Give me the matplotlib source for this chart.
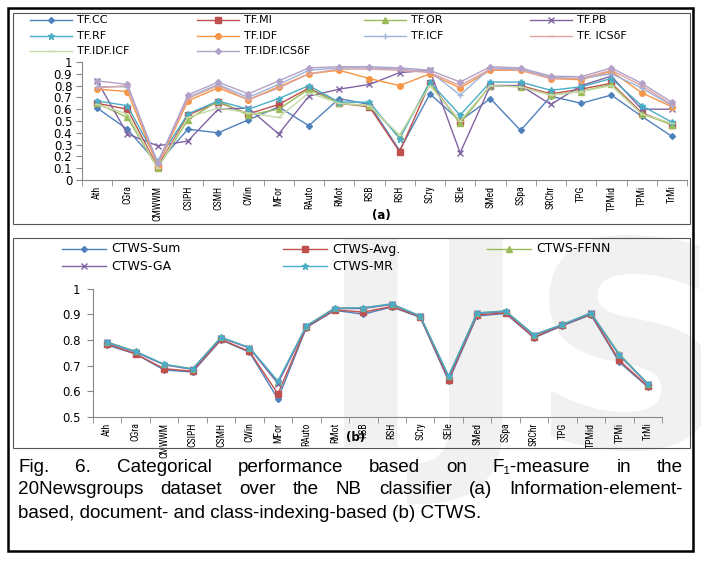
import numpy as np
import matplotlib
matplotlib.use("Agg")
import matplotlib.pyplot as plt
from matplotlib.patches import Rectangle
from matplotlib.lines import Line2D

cats = ["Ath", "CGra", "CMWWM", "CSIPH", "CSMH", "CWin", "MFor", "RAuto", "RMot", "RSB",
        "RSH", "SCry", "SEle", "SMed", "SSpa", "SRChr", "TPG", "TPMid", "TPMi", "TrMi"]

# (a) information-element / document / class indexing
tf_cc = [0.61, 0.43, 0.14, 0.43, 0.40, 0.51, 0.62, 0.46, 0.69, 0.64,
         0.25, 0.73, 0.50, 0.69, 0.42, 0.71, 0.65, 0.72, 0.54, 0.37]
tf_mi = [0.65, 0.60, 0.11, 0.55, 0.66, 0.56, 0.64, 0.78, 0.65, 0.62,
         0.24, 0.82, 0.49, 0.80, 0.80, 0.73, 0.77, 0.82, 0.57, 0.47]
tf_or = [0.65, 0.53, 0.10, 0.51, 0.67, 0.55, 0.60, 0.77, 0.65, 0.63,
         0.37, 0.82, 0.48, 0.80, 0.79, 0.72, 0.75, 0.81, 0.56, 0.47]
tf_pb = [0.84, 0.39, 0.29, 0.33, 0.60, 0.61, 0.39, 0.71, 0.77, 0.81,
         0.91, 0.93, 0.23, 0.80, 0.80, 0.64, 0.80, 0.88, 0.60, 0.60]
tf_rf = [0.67, 0.63, 0.16, 0.56, 0.67, 0.60, 0.69, 0.80, 0.66, 0.66,
         0.35, 0.83, 0.55, 0.83, 0.83, 0.76, 0.79, 0.86, 0.63, 0.49]
tf_idf = [0.77, 0.75, 0.12, 0.67, 0.78, 0.68, 0.79, 0.90, 0.93, 0.86,
          0.80, 0.90, 0.78, 0.93, 0.93, 0.86, 0.85, 0.92, 0.74, 0.62]
tf_icf = [0.79, 0.79, 0.15, 0.70, 0.81, 0.70, 0.81, 0.93, 0.95, 0.95,
          0.94, 0.92, 0.72, 0.95, 0.94, 0.87, 0.86, 0.90, 0.78, 0.63]
tf_icsdf = [0.78, 0.80, 0.13, 0.69, 0.80, 0.68, 0.78, 0.90, 0.94, 0.94,
            0.93, 0.91, 0.80, 0.94, 0.93, 0.86, 0.86, 0.93, 0.80, 0.64]
tf_idf_icf = [0.64, 0.56, 0.10, 0.53, 0.61, 0.57, 0.53, 0.74, 0.65, 0.63,
              0.38, 0.80, 0.50, 0.80, 0.79, 0.72, 0.75, 0.80, 0.56, 0.48]
tf_idf_icsdf = [0.84, 0.81, 0.14, 0.72, 0.83, 0.73, 0.84, 0.95, 0.96, 0.96,
                0.95, 0.93, 0.83, 0.96, 0.95, 0.88, 0.875, 0.95, 0.82, 0.66]

# (b) CTWS variants
ctws_sum = [0.78, 0.745, 0.683, 0.675, 0.80, 0.752, 0.57, 0.848, 0.915, 0.90,
            0.928, 0.888, 0.64, 0.893, 0.903, 0.808, 0.855, 0.898, 0.713, 0.617]
ctws_avg = [0.785, 0.745, 0.688, 0.678, 0.802, 0.755, 0.59, 0.85, 0.917, 0.908,
            0.93, 0.89, 0.645, 0.897, 0.905, 0.81, 0.857, 0.90, 0.72, 0.62]
ctws_ffnn = [0.792, 0.755, 0.705, 0.688, 0.81, 0.77, 0.635, 0.855, 0.925, 0.925,
             0.94, 0.893, 0.66, 0.905, 0.913, 0.82, 0.86, 0.905, 0.745, 0.63]
ctws_ga = [0.79, 0.752, 0.703, 0.685, 0.808, 0.768, 0.63, 0.853, 0.922, 0.922,
           0.938, 0.892, 0.655, 0.903, 0.91, 0.818, 0.858, 0.903, 0.74, 0.628]
ctws_mr = [0.79, 0.755, 0.705, 0.687, 0.81, 0.77, 0.64, 0.855, 0.923, 0.925,
           0.94, 0.893, 0.66, 0.905, 0.912, 0.82, 0.86, 0.905, 0.742, 0.63]

W, H = 701, 561
fig = plt.figure(figsize=(W / 100, H / 100), dpi=100)


def fx(px):
    return px / W


def fy(py):
    return 1 - py / H


# faint watermark behind everything
fig.text(fx(318), fy(447), "IJS", fontsize=205, fontweight="bold", color="#f1f1f1",
         family="DejaVu Sans", zorder=-5)

# frames
fig.patches.append(Rectangle((fx(8), fy(551)), fx(685), 543 / H, transform=fig.transFigure,
                             fill=False, lw=1.8, ec="black", zorder=1))
fig.patches.append(Rectangle((fx(13), fy(224)), fx(677), 211 / H, transform=fig.transFigure,
                             fill=False, lw=0.8, ec="#555555", zorder=1))
fig.patches.append(Rectangle((fx(13), fy(448)), fx(677), 210 / H, transform=fig.transFigure,
                             fill=False, lw=0.8, ec="#555555", zorder=1))

narrow = ["Liberation Sans Narrow", "Roboto Condensed", "DejaVu Sans Condensed", "Liberation Sans"]
x = np.arange(len(cats))


def legend_entry(xl, ypx, name, col, mk, ms, seg=42, fs=8):
    fig.add_artist(Line2D([fx(xl), fx(xl + seg)], [fy(ypx), fy(ypx)], color=col, lw=1.0,
                          transform=fig.transFigure))
    fig.add_artist(Line2D([fx(xl + seg / 2)], [fy(ypx)], color=col, marker=mk, ms=ms,
                          mew=1.0, transform=fig.transFigure))
    fig.text(fx(xl + seg + 5), fy(ypx), name, va="center", ha="left", fontsize=fs)


def style_axis(ax):
    ax.set_facecolor("none")
    ax.set_xlim(-0.5, len(cats) - 0.5)
    ax.set_xticks(x)
    ax.set_xticklabels(cats, rotation=90, family=narrow, fontstretch="condensed", fontsize=7)
    ax.set_xticks(np.arange(-0.5, len(cats)), minor=True)
    ax.tick_params(axis="x", which="major", length=0, pad=4)
    ax.tick_params(axis="x", which="minor", length=4, color="#888888")
    for s in ["top", "right"]:
        ax.spines[s].set_visible(False)
    for s in ["left", "bottom"]:
        ax.spines[s].set_color("#888888")


styles_a = [
    ("TF.CC", tf_cc, "#4F81BD", "D", 3),
    ("TF.MI", tf_mi, "#C0504D", "s", 4),
    ("TF.OR", tf_or, "#9BBB59", "^", 4),
    ("TF.PB", tf_pb, "#8064A2", "x", 4),
    ("TF.RF", tf_rf, "#4BACC6", "*", 5),
    ("TF.IDF", tf_idf, "#F79646", "o", 4),
    ("TF.ICF", tf_icf, "#9DB3DA", "+", 5),
    ("TF. ICS\u03b4F", tf_icsdf, "#DDA3A2", "_", 5),
    ("TF.IDF.ICF", tf_idf_icf, "#C5D9A4", "_", 5),
    ("TF.IDF.ICS\u03b4F", tf_idf_icsdf, "#B3A2C7", "D", 3),
]

ax1 = fig.add_axes([fx(82), fy(180), fx(687 - 82), (180 - 62) / H])
for name, vals, col, mk, ms in styles_a:
    ax1.plot(x, vals, color=col, marker=mk, ms=ms, lw=1.0, mew=1.0)
style_axis(ax1)
ax1.set_ylim(0, 1)
ax1.set_yticks(np.arange(0, 1.01, 0.1))
ax1.set_yticklabels(["0", "0.1", "0.2", "0.3", "0.4", "0.5", "0.6", "0.7", "0.8", "0.9", "1"])
ax1.tick_params(axis="y", labelsize=8.5, length=4, color="#888888", pad=3)
fig.text(fx(381), fy(215), "(a)", ha="center", va="center", fontsize=8.5, fontweight="bold")

col_x_a = [30, 197, 364, 530]
row_y_a = [20, 36, 51]
for i, (name, vals, col, mk, ms) in enumerate(styles_a):
    legend_entry(col_x_a[i % 4], row_y_a[i // 4], name, col, mk, ms, seg=42, fs=8)

# (b)
styles_b = [
    ("CTWS-Sum", ctws_sum, "#4F81BD", "D", 3),
    ("CTWS-Avg.", ctws_avg, "#C0504D", "s", 4),
    ("CTWS-FFNN", ctws_ffnn, "#9BBB59", "^", 4),
    ("CTWS-GA", ctws_ga, "#8064A2", "x", 4),
    ("CTWS-MR", ctws_mr, "#4BACC6", "*", 5),
]
ax2 = fig.add_axes([fx(93), fy(417), fx(662 - 93), (417 - 288.5) / H])
for name, vals, col, mk, ms in styles_b:
    ax2.plot(x, vals, color=col, marker=mk, ms=ms, lw=1.0, mew=1.0)
style_axis(ax2)
ax2.set_ylim(0.5, 1)
ax2.set_yticks([0.5, 0.6, 0.7, 0.8, 0.9, 1.0])
ax2.set_yticklabels(["0.5", "0.6", "0.7", "0.8", "0.9", "1"])
ax2.tick_params(axis="y", labelsize=8.5, length=4, color="#888888", pad=5)
fig.text(fx(356), fy(437), "(b)", ha="center", va="center", fontsize=8.5, fontweight="bold")

col_x_b = [62, 283, 487]
row_y_b = [249, 266]
for i, (name, vals, col, mk, ms) in enumerate(styles_b):
    legend_entry(col_x_b[i % 3], row_y_b[i // 3], name, col, mk, ms, seg=44, fs=9)

# caption, first two lines justified
cap_lines = [
    "Fig. 6. Categorical performance based on F\u2081-measure in the",
    "20Newsgroups dataset over the NB classifier (a) Information-element-",
    "based, document- and class-indexing-based (b) CTWS.",
]
cap_y = [467, 490, 513]
cap_font = dict(family=["Liberation Sans", "DejaVu Sans"], fontsize=13.6, color="black")
left_px, right_px = 18, 683
fig.canvas.draw()
rend = fig.canvas.get_renderer()
for i, (line, ypx) in enumerate(zip(cap_lines, cap_y)):
    if i == len(cap_lines) - 1:
        fig.text(fx(left_px), fy(ypx), line, va="center", ha="left", **cap_font)
        continue
    words = line.split(" ")
    objs = [fig.text(0, fy(ypx), w, va="center", ha="left", **cap_font) for w in words]
    widths = [o.get_window_extent(rend).width for o in objs]
    gap = (right_px - left_px - sum(widths)) / (len(words) - 1)
    pos = left_px
    for o, wd in zip(objs, widths):
        o.set_x(fx(pos))
        pos += wd + gap

fig.savefig("out.png", dpi=100)
